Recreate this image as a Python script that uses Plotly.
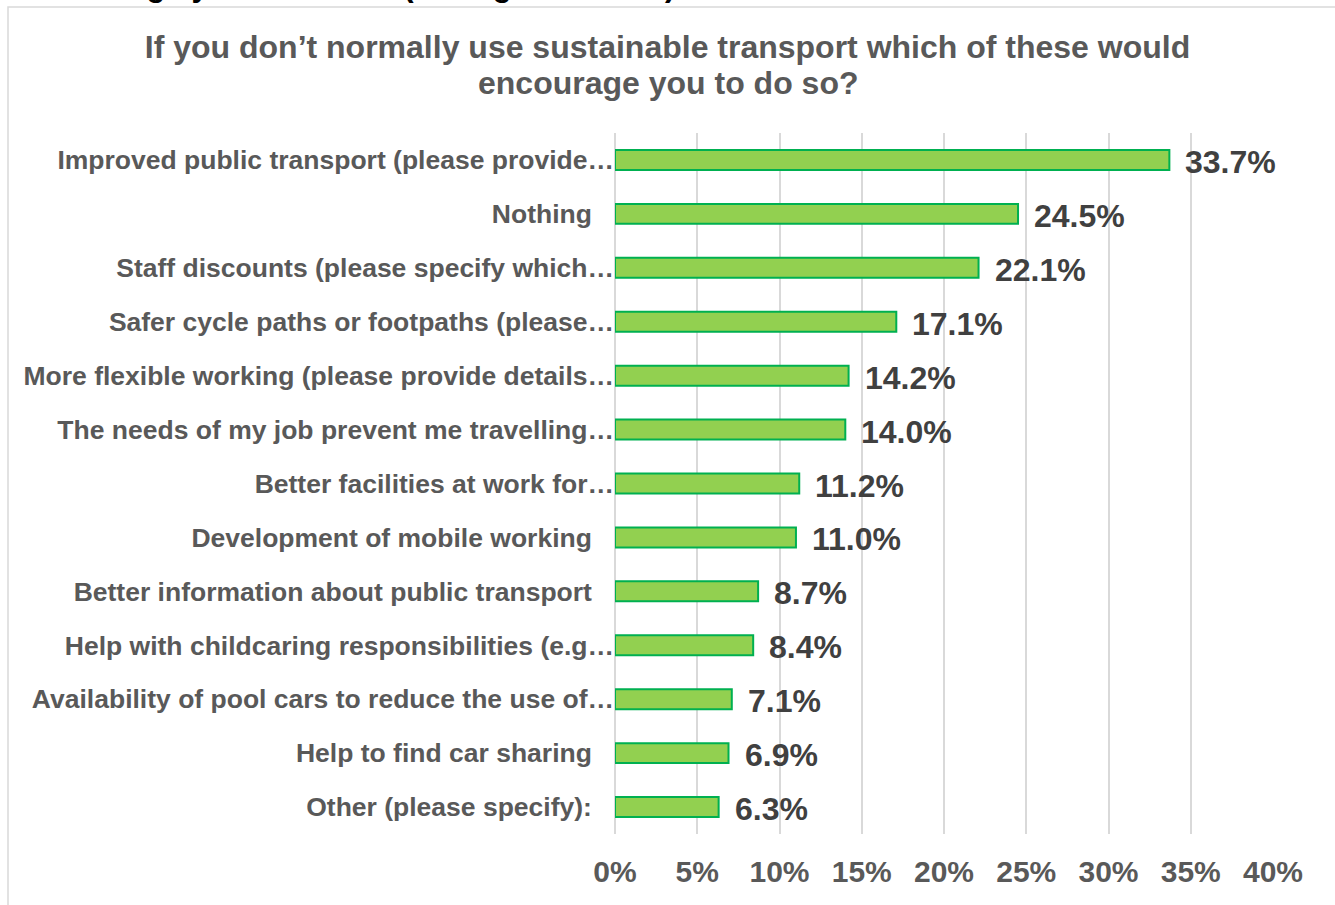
import plotly.graph_objects as go

# Survey responses, listed top to bottom as displayed
categories = [
    "Improved public transport (please provide…",
    "Nothing",
    "Staff discounts (please specify which…",
    "Safer cycle paths or footpaths (please…",
    "More flexible working (please provide details…",
    "The needs of my job prevent me travelling…",
    "Better facilities at work for…",
    "Development of mobile working",
    "Better information about public transport",
    "Help with childcaring responsibilities (e.g…",
    "Availability of pool cars to reduce the use of…",
    "Help to find car sharing",
    "Other (please specify):",
]
percentages = [33.7, 24.5, 22.1, 17.1, 14.2, 14.0, 11.2, 11.0, 8.7, 8.4, 7.1, 6.9, 6.3]
x_ticks = [0, 5, 10, 15, 20, 25, 30, 35, 40]
x_tick_labels = ["0%", "5%", "10%", "15%", "20%", "25%", "30%", "35%", "40%"]
title_lines = [
    "If you don’t normally use sustainable transport which of these would",
    "encourage you to do so?",
]

W, H = 1335, 905
M_L, M_R, M_T, M_B = 615, 62, 133, 71
PW, PH = W - M_L - M_R, H - M_T - M_B

FONT = "Liberation Sans, Arial, sans-serif"
GREY = "#595959"

# Untruncated labels sit a little further from the axis than clipped ones
PAD = "\u00a0\u00a0\u00a0"
tick_text = [c if c.endswith("…") else c + PAD for c in categories]

fig = go.Figure(
    go.Bar(
        x=[v / 100 for v in percentages],
        y=categories,
        orientation="h",
        marker=dict(color="#92D050", line=dict(color="#00B050", width=2)),
        hoverinfo="skip",
    )
)

# Value labels to the right of each bar
for cat, v in zip(categories, percentages):
    fig.add_annotation(
        x=v / 100, y=cat, xref="x", yref="y",
        text=f"{v:.1f}%", showarrow=False,
        xanchor="left", xshift=14, yshift=-2,
        font=dict(family=FONT, size=32, color="#404040", weight="bold"),
    )

def px_x(p):
    return (p - M_L) / PW

def px_y(p):
    return (H - M_B - p) / PH

# Chart frame
fig.add_shape(
    type="rect", xref="paper", yref="paper",
    x0=px_x(8), x1=px_x(1345), y0=px_y(915), y1=px_y(7),
    line=dict(color="#d9d9d9", width=1.5), fillcolor="rgba(0,0,0,0)", layer="below",
)

# Document heading above the chart
fig.add_annotation(
    xref="paper", yref="paper", x=px_x(677), y=px_y(5),
    xanchor="right", yanchor="bottom", showarrow=False,
    text="encourage you to do so? (All organisations)",
    font=dict(family=FONT, size=31, color="#000000", weight="bold"),
)

# Second title line, set tighter than the default line height
fig.add_annotation(
    xref="paper", yref="paper", x=px_x(W / 2), y=px_y(83),
    xanchor="center", yanchor="middle", showarrow=False,
    text=title_lines[1],
    font=dict(family=FONT, size=32, color=GREY, weight="bold"),
)

fig.update_layout(
    width=W, height=H,
    margin=dict(l=M_L, r=M_R, t=M_T, b=M_B),
    paper_bgcolor="white", plot_bgcolor="white",
    showlegend=False,
    bargap=0.63,
    title=dict(
        text=title_lines[0],
        x=0.5, xanchor="center", y=1 - 47 / H, yanchor="middle",
        font=dict(family=FONT, size=32, color=GREY, weight="bold"),
    ),
    xaxis=dict(
        range=[0, 0.40],
        tickvals=[t / 100 for t in x_ticks],
        ticktext=x_tick_labels,
        showgrid=True, gridcolor="#d9d9d9", gridwidth=1.5,
        zeroline=True, zerolinecolor="#d9d9d9", zerolinewidth=1.5,
        showline=False, ticks="",
        ticklabelstandoff=17,
        tickfont=dict(family=FONT, size=30, color=GREY, weight="bold"),
        fixedrange=True,
    ),
    yaxis=dict(
        categoryorder="array", categoryarray=categories[::-1],
        tickvals=categories, ticktext=tick_text,
        showgrid=False, showline=False, ticks="", zeroline=False,
        ticklabelstandoff=0,
        tickfont=dict(family=FONT, size=26.5, color=GREY, weight="bold"),
        fixedrange=True,
    ),
)

fig.write_html("out.html")
